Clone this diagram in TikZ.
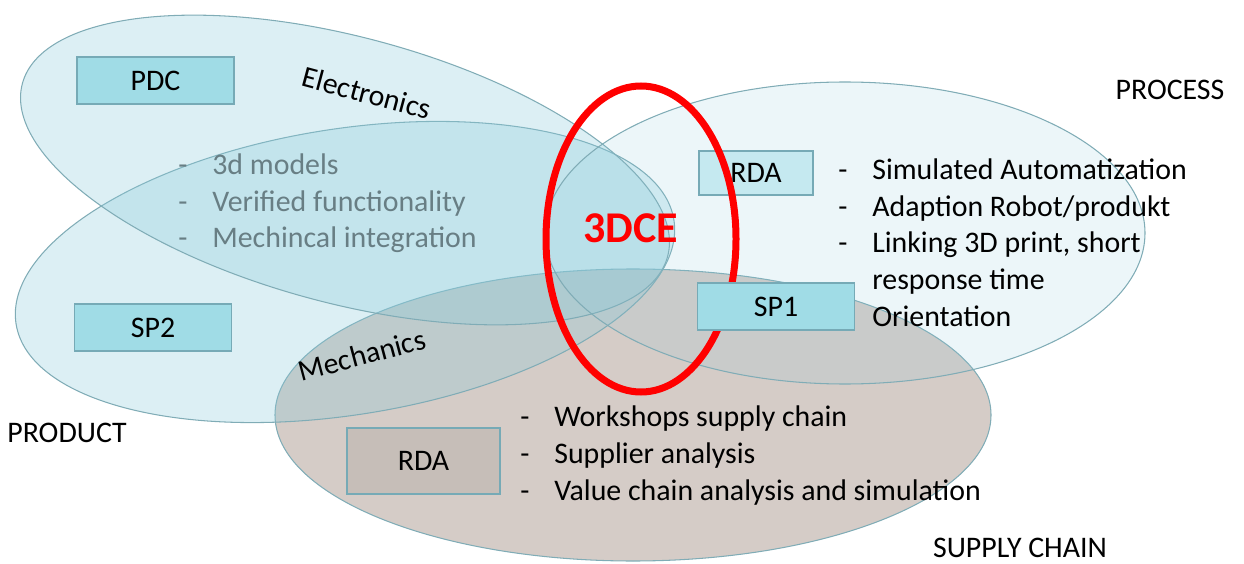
\documentclass[tikz,border=0pt]{standalone}
\usepackage{fontspec}
\setmainfont{Carlito}
\usetikzlibrary{positioning}

\definecolor{zoneline}{RGB}{128,172,182}
\definecolor{bluezone}{RGB}{138,202,218}
\definecolor{brownzone}{RGB}{185,170,162}
\definecolor{tagblue}{RGB}{160,220,230}
\definecolor{taglight}{RGB}{197,233,240}
\definecolor{tagbrown}{RGB}{198,190,184}
\definecolor{tagline}{RGB}{118,170,182}
\definecolor{graytext}{RGB}{104,126,132}
\definecolor{ringred}{RGB}{255,0,0}

\newcommand{\itemdash}{\makebox[0.68cm][l]{-}}
\newcommand{\itemgap}{\hspace*{0.68cm}}

\begin{document}
\begin{tikzpicture}[x=0.02cm,y=-0.02cm,
  zone/.style={draw=zoneline,line width=0.6pt},
  tagbox/.style={draw=tagline,line width=0.6pt,inner sep=0pt,
    minimum width=3.14cm,minimum height=0.94cm,font=\fontsize{17}{20}\selectfont},
  itemlist/.style={inner sep=0pt,align=left,font=\fontsize{17}{20.8}\selectfont},
  zonelabel/.style={inner sep=0pt,font=\fontsize{17}{20}\selectfont}]
\useasboundingbox (0,0) rectangle (1244,564);

% Drawing ellipse supply chain
\draw [zone,fill=brownzone,fill opacity=0.6] (633,415) ellipse [x radius=358, y radius=146];

% Drawing ellipse product
\draw [zone,fill=bluezone,fill opacity=0.3,rotate around={9:(345,272)}] (345,272) ellipse [x radius=333, y radius=143];

% Drawing ellipse electronics
\draw [zone,fill=bluezone,fill opacity=0.3,rotate around={-15:(345,170)}] (345,170) ellipse [x radius=334, y radius=133];

% Drawing ellipse process
\draw [zone,fill=bluezone,fill opacity=0.16] (845,233) ellipse [x radius=300, y radius=151];

% Marking boxes
\node (pdc) [tagbox,fill=tagblue] at (155.5,80.5) {PDC};
\node (sp2) [tagbox,fill=tagblue] at (153,327.5) {SP2};
\node (rdaProc) [tagbox,fill=taglight,minimum width=2.28cm,minimum height=0.88cm] at (756,173) {RDA};
\node (rdaSupply) [tagbox,fill=tagbrown,minimum width=3.06cm,minimum height=1.32cm] at (423.5,461) {RDA};

% Drawing ellipse 3DCE
\draw [ringred,line width=0.14cm] (641,239) ellipse [x radius=95, y radius=153];
\node (sp1) [tagbox,fill=tagblue] at (776,306.5) {SP1};
\node (core) [inner sep=0pt,text=ringred,font=\fontsize{25}{30}\selectfont\bfseries] at (631,228) {3DCE};

% Marking zone names
\node (elecLabel) [zonelabel,rotate=-15] at (367,93) {Electronics};
\node (mechLabel) [zonelabel,rotate=15] at (362,355) {Mechanics};
\node (procLabel) [zonelabel] at (1170,90) {PROCESS};
\node (prodLabel) [zonelabel] at (67,433) {PRODUCT};
\node (supplyLabel) [zonelabel] at (1020,548) {SUPPLY CHAIN};

% Marking lists (base is the last line)
\node (prodList) [itemlist,text=graytext,anchor=base west] at (178,248)
  {\itemdash 3d models\\ \itemdash Verified functionality\\ \itemdash Mechincal integration};
\node (procList) [itemlist,anchor=base west] at (838,326)
  {\itemdash Simulated Automatization\\ \itemdash Adaption Robot/produkt\\
   \itemdash Linking 3D print, short\\ \itemgap response time\\ \itemgap Orientation};
\node (supplyList) [itemlist,anchor=base west] at (520,500)
  {\itemdash Workshops supply chain\\ \itemdash Supplier analysis\\
   \itemdash Value chain analysis and simulation};
\end{tikzpicture}
\end{document}
